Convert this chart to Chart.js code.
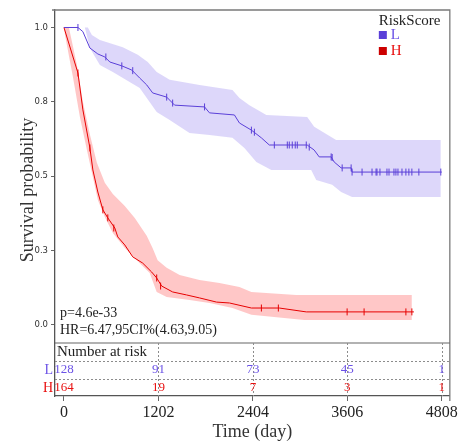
<!DOCTYPE html>
<html><head><meta charset="utf-8">
<script src="https://cdn.jsdelivr.net/npm/chart.js@4.4.1/dist/chart.umd.min.js"></script>
<style>
html,body{margin:0;padding:0;background:#fff;}
#wrap{position:relative;width:460px;height:444px;}
</style></head><body>
<div id="wrap"><canvas id="c" width="460" height="444"></canvas></div>
<script>
// ---------- data ----------
const xTicks = [0, 1202, 2404, 3606, 4808];
const yTickValues = [0, 0.25, 0.5, 0.75, 1];
const yTickLabels = ["0.0", "0.3", "0.5", "0.8", "1.0"];
const groups = ["L", "H"];
const riskL = [128, 91, 73, 45, 1];
const riskH = [164, 19, 7, 3, 1];
const pText = "p=4.6e-33";
const hrText = "HR=6.47,95CI%(4.63,9.05)";

// low-risk curve
const L_time = [0,178,241,330,431,520,584,736,863,964,1053,1129,1307,1408,1789,1852,2169,2233,2385,2512,2613,3095,3184,3248,3400,3438,3527,3654,3666,4808];
const L_surv = [1.0,1.0,0.986,0.931,0.911,0.901,0.884,0.871,0.857,0.830,0.807,0.780,0.766,0.739,0.733,0.713,0.706,0.679,0.655,0.629,0.605,0.605,0.588,0.565,0.565,0.548,0.528,0.528,0.514,0.514];
const Lup_time = [0,304,355,457,748,939,1066,1180,1345,1725,2144,2233,2360,2575,3095,3184,3463,4795];
const Lup_surv = [1.0,1.0,0.975,0.958,0.934,0.908,0.884,0.850,0.824,0.807,0.790,0.763,0.739,0.706,0.699,0.666,0.622,0.622];
const Llo_time = [0,266,330,457,622,964,1180,1345,1598,1852,2144,2296,2448,2639,3146,3210,3413,3527,3666,4795];
const Llo_surv = [1.0,1.0,0.931,0.874,0.850,0.797,0.716,0.689,0.645,0.639,0.629,0.595,0.548,0.521,0.521,0.487,0.471,0.447,0.430,0.430];
const Lc_time = [178,533,736,875,1307,1383,1789,2385,2423,2677,2842,2867,2905,2943,2969,3083,3121,3400,3413,3540,3654,3666,3793,3920,3971,3983,4021,4110,4136,4199,4224,4250,4301,4351,4389,4427,4516,4795];
const Lc_surv = [1.0,0.901,0.871,0.855,0.766,0.746,0.733,0.655,0.648,0.605,0.605,0.605,0.605,0.605,0.605,0.605,0.598,0.565,0.563,0.528,0.528,0.514,0.514,0.514,0.514,0.514,0.514,0.514,0.514,0.514,0.514,0.514,0.514,0.514,0.514,0.514,0.514,0.514];

// high-risk curve
const H_time = [0,178,241,330,368,431,495,558,647,685,774,875,1002,1116,1180,1243,1383,1560,1725,1941,2106,2385,2740,3083,4453];
const H_surv = [1.0,0.847,0.723,0.595,0.521,0.447,0.387,0.360,0.326,0.296,0.269,0.229,0.208,0.178,0.158,0.131,0.111,0.101,0.091,0.077,0.074,0.057,0.057,0.044,0.044];
const Hup_time = [0,63,165,241,330,419,520,622,774,901,1053,1129,1192,1307,1472,1725,1979,2233,2385,2956,4427];
const Hup_surv = [1.0,1.0,0.874,0.750,0.640,0.545,0.478,0.440,0.400,0.360,0.300,0.258,0.218,0.192,0.168,0.151,0.141,0.128,0.111,0.101,0.101];
const Hlo_time = [0,13,114,203,292,368,431,520,622,774,926,1091,1180,1307,1598,1852,2144,2385,3057,4427];
const Hlo_surv = [1.0,0.975,0.834,0.699,0.588,0.497,0.420,0.363,0.309,0.259,0.218,0.175,0.111,0.094,0.084,0.074,0.057,0.034,0.017,0.017];
const Hc_time = [178,330,495,558,634,1180,1230,2512,2728,3603,3819,4351,4427];
const Hc_surv = [0.847,0.595,0.387,0.360,0.326,0.158,0.131,0.057,0.057,0.044,0.044,0.044,0.044];

// ---------- styling ----------
const colL = '#5a3fd8', colH = '#e60000';
const bandL = 'rgba(120,95,235,0.25)', bandH = 'rgba(255,0,0,0.22)';
const txtL = '#6b52e6', txtH = '#e81010';
const serif = '"Liberation Serif", "Times New Roman", serif';

const pts = (t, s) => t.map((v, i) => ({x: v, y: s[i]}));
const lineDs = (label, data, color) => ({label, data, borderColor: color, borderWidth: 1, pointRadius: 0, fill: false, tension: 0, order: 0});
const censorDs = (label, data, color) => ({label, data, showLine: false, pointStyle: 'line', pointRotation: 90, pointRadius: 3.5, pointBorderColor: color, pointBorderWidth: 1, pointHoverRadius: 3.5, order: 0});
const bandDs = (label, data, fill, bg) => ({label, data, borderColor: 'rgba(0,0,0,0)', borderWidth: 0, pointRadius: 0, fill, backgroundColor: bg, tension: 0, order: 2});

const extras = {
  id: 'extras',
  afterDraw(chart) {
    const {ctx, chartArea: ca, scales: {x}} = chart;
    ctx.save();
    // frame top & right
    ctx.strokeStyle = '#7a7a7a'; ctx.lineWidth = 1.3;
    ctx.beginPath(); ctx.moveTo(ca.left - 3, ca.top); ctx.lineTo(ca.right, ca.top); ctx.lineTo(ca.right, ca.bottom + 5); ctx.stroke();
    // risk table
    const tTop = ca.bottom - 53;
    ctx.strokeStyle = '#666'; ctx.lineWidth = 1.2;
    ctx.beginPath(); ctx.moveTo(ca.left, tTop); ctx.lineTo(ca.right, tTop); ctx.stroke();
    ctx.strokeStyle = '#8c8c8c'; ctx.lineWidth = 1; ctx.setLineDash([2, 2]);
    ctx.beginPath();
    [18, 36].forEach(d => { ctx.moveTo(ca.left, tTop + d + 0.5); ctx.lineTo(ca.right, tTop + d + 0.5); });
    xTicks.slice(1).forEach(v => { const px = Math.round(x.getPixelForValue(v)) + 0.5; ctx.moveTo(px, tTop); ctx.lineTo(px, ca.bottom); });
    ctx.stroke(); ctx.setLineDash([]);
    ctx.textBaseline = 'middle';
    ctx.font = '15px ' + serif; ctx.fillStyle = '#222'; ctx.textAlign = 'left';
    ctx.fillText('Number at risk', ca.left + 2, tTop + 9);
    ctx.font = '14px ' + serif; ctx.textAlign = 'right';
    ctx.fillStyle = txtL; ctx.fillText(groups[0], ca.left - 2, tTop + 27);
    ctx.fillStyle = txtH; ctx.fillText(groups[1], ca.left - 2, tTop + 45);
    ctx.font = '13px ' + serif; ctx.textAlign = 'center';
    xTicks.forEach((v, i) => {
      const px = x.getPixelForValue(v);
      ctx.fillStyle = txtL; ctx.fillText(String(riskL[i]), px, tTop + 27);
      ctx.fillStyle = txtH; ctx.fillText(String(riskH[i]), px, tTop + 45);
    });
    // annotations
    ctx.font = '14px ' + serif; ctx.fillStyle = '#222'; ctx.textAlign = 'left';
    ctx.fillText(pText, ca.left + 5, tTop - 30);
    ctx.fillText(hrText, ca.left + 5, tTop - 13);
    // legend
    ctx.font = '15px ' + serif; ctx.fillStyle = '#222';
    ctx.fillText('RiskScore', ca.right - 71, ca.top + 11);
    ctx.fillStyle = colL; ctx.fillRect(ca.right - 71, ca.top + 21, 8, 8);
    ctx.fillStyle = '#cc0000'; ctx.fillRect(ca.right - 71, ca.top + 37, 8, 8);
    ctx.font = '15px ' + serif;
    ctx.fillStyle = txtL; ctx.fillText(groups[0], ca.right - 59, ca.top + 25);
    ctx.fillStyle = txtH; ctx.fillText(groups[1], ca.right - 59, ca.top + 41);
    // y title
    ctx.translate(28, 190); ctx.rotate(-Math.PI / 2);
    ctx.font = '18px ' + serif; ctx.fillStyle = '#333'; ctx.textAlign = 'center';
    ctx.fillText('Survival probability', 0, 0);
    ctx.restore();
  }
};

new Chart(document.getElementById('c'), {
  type: 'line',
  data: {
    datasets: [
      lineDs('L', pts(L_time, L_surv), colL),
      lineDs('H', pts(H_time, H_surv), colH),
      censorDs('L censored', pts(Lc_time, Lc_surv), colL),
      censorDs('H censored', pts(Hc_time, Hc_surv), colH),
      bandDs('L upper', pts(Lup_time, Lup_surv), false, bandL),
      bandDs('L lower', pts(Llo_time, Llo_surv), '-1', bandL),
      bandDs('H upper', pts(Hup_time, Hup_surv), false, bandH),
      bandDs('H lower', pts(Hlo_time, Hlo_surv), '-1', bandH)
    ]
  },
  options: {
    responsive: false, devicePixelRatio: 1, animation: false,
    layout: {padding: {left: 0, right: 9, top: 10, bottom: 0}},
    plugins: {legend: {display: false}, tooltip: {enabled: false}},
    scales: {
      x: {
        type: 'linear', min: -114, max: 4910,
        afterBuildTicks: s => { s.ticks = xTicks.map(v => ({value: v})); },
        afterFit: s => { s.height = 48; },
        ticks: {autoSkip: false, maxRotation: 0, font: {family: serif, size: 16}, color: '#222', padding: 2, callback: v => String(v)},
        grid: {drawOnChartArea: false, tickLength: 5, color: '#666'},
        border: {color: '#555', width: 1.2},
        title: {display: true, text: 'Time (day)', font: {family: serif, size: 18}, color: '#333', padding: {top: 0, bottom: 1}}
      },
      y: {
        min: -0.2387, max: 1.0588,
        afterBuildTicks: s => { s.ticks = yTickValues.map(v => ({value: v})); },
        afterFit: s => { s.width = 55; },
        ticks: {font: {family: '"DejaVu Sans", sans-serif', size: 8.5}, color: '#333', padding: 3, callback: v => yTickLabels[yTickValues.indexOf(v)]},
        grid: {drawOnChartArea: false, tickLength: 4, color: '#666'},
        border: {color: '#555', width: 1.3}
      }
    }
  },
  plugins: [extras]
});
</script>
</body></html>
